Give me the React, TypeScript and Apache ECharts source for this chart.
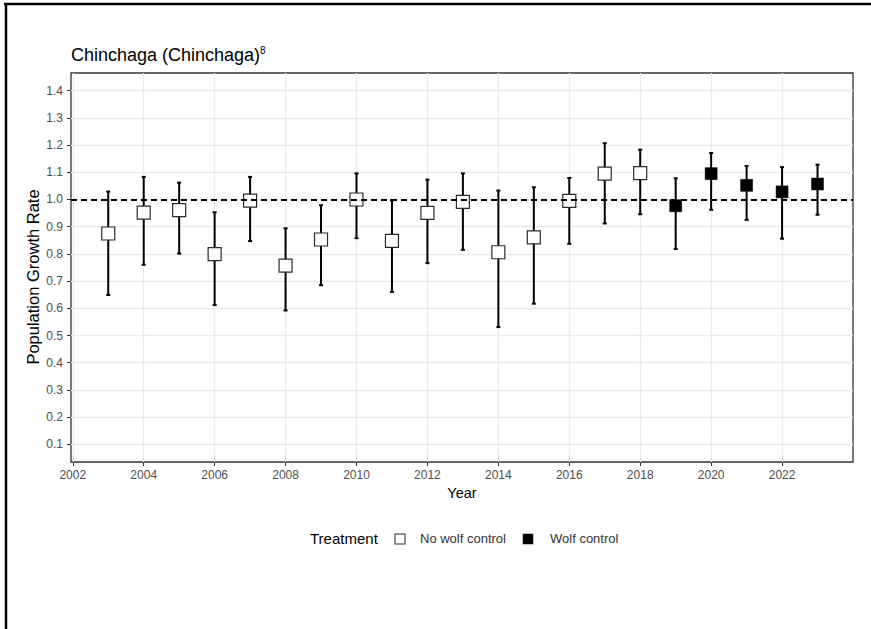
import React, { useEffect, useRef } from "react";
import * as echarts from "echarts";

// Annual population growth estimates with confidence limits
const years = [2003, 2004, 2005, 2006, 2007, 2008, 2009, 2010, 2011, 2012, 2013, 2014, 2015, 2016, 2017, 2018, 2019, 2020, 2021, 2022, 2023];
const growth = [0.875, 0.952, 0.961, 0.799, 0.996, 0.757, 0.853, 1.0, 0.848, 0.951, 0.991, 0.806, 0.861, 0.995, 1.095, 1.097, 0.977, 1.095, 1.052, 1.028, 1.057];
const lower = [0.649, 0.76, 0.801, 0.612, 0.847, 0.592, 0.685, 0.858, 0.66, 0.766, 0.815, 0.531, 0.617, 0.837, 0.912, 0.946, 0.818, 0.962, 0.925, 0.856, 0.944];
const upper = [1.029, 1.083, 1.062, 0.953, 1.083, 0.894, 0.979, 1.096, 0.997, 1.073, 1.096, 1.033, 1.045, 1.079, 1.207, 1.183, 1.078, 1.171, 1.123, 1.119, 1.128];
const treatment = [
  "No wolf control", "No wolf control", "No wolf control", "No wolf control", "No wolf control",
  "No wolf control", "No wolf control", "No wolf control", "No wolf control", "No wolf control",
  "No wolf control", "No wolf control", "No wolf control", "No wolf control", "No wolf control",
  "No wolf control", "Wolf control", "Wolf control", "Wolf control", "Wolf control", "Wolf control",
];
const treatmentLevels = ["No wolf control", "Wolf control"];

const xTicks = [2002, 2004, 2006, 2008, 2010, 2012, 2014, 2016, 2018, 2020, 2022];
const yTicks = [0.1, 0.2, 0.3, 0.4, 0.5, 0.6, 0.7, 0.8, 0.9, 1.0, 1.1, 1.2, 1.3, 1.4];
const referenceRate = 1.0;

const FONT = "'Liberation Sans', Arial, Helvetica, sans-serif";

export default function App() {
  const ref = useRef<HTMLDivElement>(null);

  useEffect(() => {
    if (!ref.current) return;
    const chart = echarts.init(ref.current, null, { renderer: "svg" });

    const errorData = years.map((y, i) => [y, lower[i], upper[i]]);
    const pointsFor = (level: string) =>
      years.map((y, i) => (treatment[i] === level ? [y, growth[i]] : null)).filter((d) => d !== null);

    const option: any = {
      animation: false,
      backgroundColor: "#ffffff",
      title: {
        text: "Chinchaga (Chinchaga){sup|8}",
        left: 66,
        top: 40,
        textStyle: {
          fontFamily: FONT,
          fontSize: 18,
          fontWeight: "normal",
          color: "#000000",
          rich: {
            sup: { fontFamily: FONT, fontSize: 10, color: "#000000", padding: [0, 0, 9, 0] },
          },
        },
      },
      grid: {
        left: 71,
        top: 73,
        right: 18,
        bottom: 167,
        show: true,
        borderColor: "#333333",
        borderWidth: 1.3,
        backgroundColor: "transparent",
      },
      xAxis: {
        type: "value",
        min: 2001.95,
        max: 2024,
        name: "Year",
        nameLocation: "middle",
        nameGap: 23,
        nameTextStyle: { fontFamily: FONT, fontSize: 14.5, color: "#000000" },
        axisLine: { show: false },
        axisTick: { show: true, length: 4, customValues: xTicks, lineStyle: { color: "#333333", width: 1 } },
        axisLabel: {
          customValues: xTicks,
          margin: 7,
          fontFamily: FONT,
          fontSize: 12,
          color: "#4d4d4d",
          formatter: (v: number) => String(v),
        },
        splitLine: { show: true, lineStyle: { color: "#ebebeb", width: 1.4 } },
      },
      yAxis: {
        type: "value",
        min: 0.035,
        max: 1.465,
        axisLine: { show: false },
        axisTick: { show: true, length: 4, customValues: yTicks, lineStyle: { color: "#333333", width: 1 } },
        axisLabel: {
          customValues: yTicks,
          margin: 8,
          fontFamily: FONT,
          fontSize: 12,
          color: "#4d4d4d",
          formatter: (v: number) => v.toFixed(1),
        },
        splitLine: { show: true, lineStyle: { color: "#ebebeb", width: 1.4 } },
      },
      series: [
        {
          type: "custom",
          name: "errorbars",
          z: 2,
          data: errorData,
          encode: { x: 0, y: [1, 2] },
          renderItem: (params: any, api: any) => {
            const x = api.value(0);
            const lo = api.coord([x, api.value(1)]);
            const hi = api.coord([x, api.value(2)]);
            const cap = 2;
            const style = { stroke: "#000000", lineWidth: 2 };
            return {
              type: "group",
              children: [
                { type: "line", shape: { x1: lo[0], y1: lo[1], x2: hi[0], y2: hi[1] }, style },
                { type: "line", shape: { x1: lo[0] - cap, y1: lo[1], x2: lo[0] + cap, y2: lo[1] }, style },
                { type: "line", shape: { x1: hi[0] - cap, y1: hi[1], x2: hi[0] + cap, y2: hi[1] }, style },
              ],
            };
          },
        },
        {
          type: "scatter",
          name: treatmentLevels[0],
          z: 3,
          symbol: "rect",
          symbolSize: 13,
          itemStyle: { color: "#ffffff", borderColor: "#2b2b2b", borderWidth: 1.2, opacity: 1 },
          data: pointsFor(treatmentLevels[0]),
        },
        {
          type: "scatter",
          name: treatmentLevels[1],
          z: 3,
          symbol: "rect",
          symbolSize: 12,
          itemStyle: { color: "#000000", borderColor: "#000000", borderWidth: 0.5, opacity: 1 },
          data: pointsFor(treatmentLevels[1]),
        },
        {
          type: "line",
          name: "reference",
          z: 4,
          data: [],
          markLine: {
            silent: true,
            symbol: "none",
            label: { show: false },
            lineStyle: { color: "#000000", width: 1.8, type: [6, 4] },
            data: [{ yAxis: referenceRate }],
          },
        },
      ],
      graphic: [
        // frame lines along the top and left edges
        { type: "line", z: 10, shape: { x1: 4, y1: 4, x2: 871, y2: 4 }, style: { stroke: "#000000", lineWidth: 2.5 } },
        { type: "line", z: 10, shape: { x1: 6, y1: 3, x2: 6, y2: 629 }, style: { stroke: "#000000", lineWidth: 2.5 } },
        // y-axis title
        {
          type: "text",
          x: 33,
          y: 277,
          rotation: Math.PI / 2,
          style: {
            text: "Population Growth Rate",
            fontFamily: FONT,
            fontSize: 16.5,
            fill: "#000000",
            align: "center",
            verticalAlign: "middle",
          },
        },
        // legend
        {
          type: "text",
          left: 310,
          top: 531,
          style: { text: "Treatment", fontFamily: FONT, fontSize: 15, fill: "#000000" },
        },
        {
          type: "rect",
          shape: { x: 395, y: 534, width: 10, height: 10 },
          style: { fill: "#ffffff", stroke: "#333333", lineWidth: 1.1 },
        },
        {
          type: "text",
          left: 420,
          top: 532,
          style: { text: treatmentLevels[0], fontFamily: FONT, fontSize: 13, fill: "#333333" },
        },
        {
          type: "rect",
          shape: { x: 523, y: 534, width: 10, height: 10 },
          style: { fill: "#000000", stroke: "#000000", lineWidth: 0.5 },
        },
        {
          type: "text",
          left: 550,
          top: 532,
          style: { text: treatmentLevels[1], fontFamily: FONT, fontSize: 13, fill: "#333333" },
        },
      ],
    };

    chart.setOption(option);
    return () => chart.dispose();
  }, []);

  return (
    <div
      ref={ref}
      style={{ position: "absolute", left: 0, top: 0, width: 871, height: 629, background: "#ffffff" }}
    />
  );
}
